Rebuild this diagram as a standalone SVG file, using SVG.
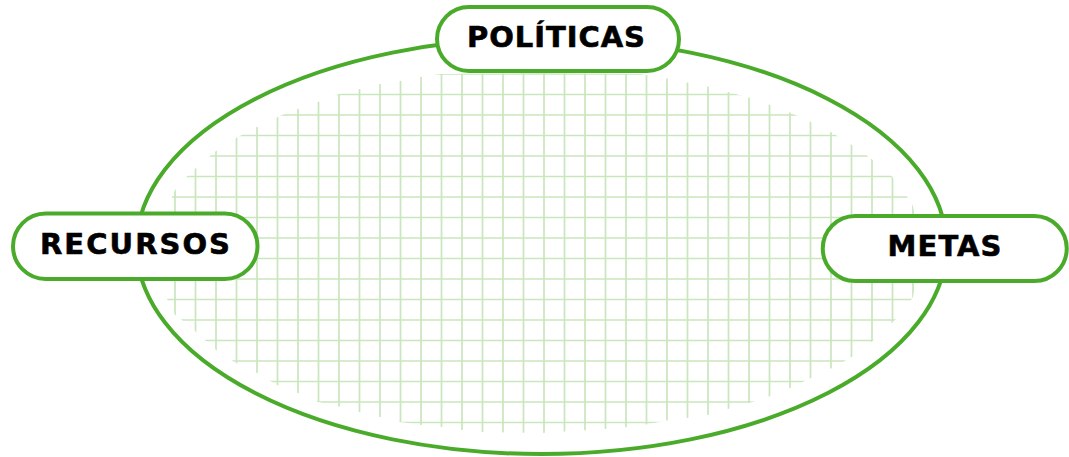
<svg xmlns="http://www.w3.org/2000/svg" width="1069" height="457" viewBox="0 0 1069 457">
  <style>
    .grid { fill: none; stroke: #c9e6bd; stroke-width: 1.7; }
    .ring { fill: none; stroke: #4aab2b; stroke-width: 4; }
    .box { fill: #ffffff; stroke: #4aab2b; stroke-width: 4; }
    .label { font-family: "DejaVu Sans", "Liberation Sans", Arial, sans-serif; font-weight: bold; font-size: 29px; fill: #000000; stroke: #000000; stroke-width: 0.6; }
  </style>
  <defs>
    <clipPath id="gridClip">
      <polygon points="420,77 440,74 541,73 640,74 667,78.5 687,82.5 708,86.5 728,92 749,97.5 769,104.5 790,112.5 810,121.5 830,131.5 851,144.5 871,158.5 892,176.5 906,195 913,206 917,230 918,250 917,275 913,297 903,312 892,323 872,341.5 851,357.5 831,368.5 811,378 790,388 769,396.5 749,403 728,409 708,415 687,418 667,420.5 646,424.5 620,428 541,433 482,432 462,430 442,427 421,425 400,422 380,417 359,412 339,406.5 318,402 298,393 277,385 257,373 236,363 216,350 196,332 182,320 175,315 167,299 165,280 164,245 167,215 172,197 175,190 187,176.5 196,168 210,156 216,151 237,137.5 257,127 282,115 298,109 318,102 339,94 360,89 380,84 400,81"/>
    </clipPath>
  </defs>

  <g id="background-grid" clip-path="url(#gridClip)">
    <path class="grid" d="M175 60V440M195.5 60V440M216 60V440M236.5 60V440M257 60V440M277.5 60V440M298 60V440M318.5 60V440M339 60V440M359.5 60V440M380 60V440M400.5 60V440M421 60V440M441.5 60V440M462 60V440M482.5 60V440M503 60V440M523.5 60V440M544 60V440M564.5 60V440M585 60V440M605.5 60V440M626 60V440M646.5 60V440M667 60V440M687.5 60V440M708 60V440M728.5 60V440M749 60V440M769.5 60V440M790 60V440M810.5 60V440M831 60V440M851.5 60V440M872 60V440M892.5 60V440M913 60V440"/>
    <path class="grid" d="M150 74H930M150 94.5H930M150 115H930M150 135.5H930M150 156H930M150 176.5H930M150 197H930M150 217.5H930M150 238H930M150 258.5H930M150 279H930M150 299.5H930M150 320H930M150 340.5H930M150 361H930M150 381.5H930M150 402H930M150 422.5H930"/>
  </g>

  <g id="connectors">
    <ellipse class="ring" cx="541.5" cy="246" rx="405" ry="208"/>
  </g>

  <g id="node-politicas">
    <rect class="box" x="437" y="7" width="242" height="64" rx="32" ry="32"/>
    <text class="label" x="467" y="47" textLength="178" lengthAdjust="spacing">POLÍTICAS</text>
  </g>

  <g id="node-recursos">
    <rect class="box" x="13" y="213.5" width="244.5" height="65.5" rx="32.75" ry="32.75"/>
    <text class="label" x="40" y="254" textLength="190" lengthAdjust="spacing">RECURSOS</text>
  </g>

  <g id="node-metas">
    <rect class="box" x="822.75" y="216" width="244" height="65" rx="32.5" ry="32.5"/>
    <text class="label" x="887.5" y="255.5" textLength="114" lengthAdjust="spacing">METAS</text>
  </g>
</svg>
